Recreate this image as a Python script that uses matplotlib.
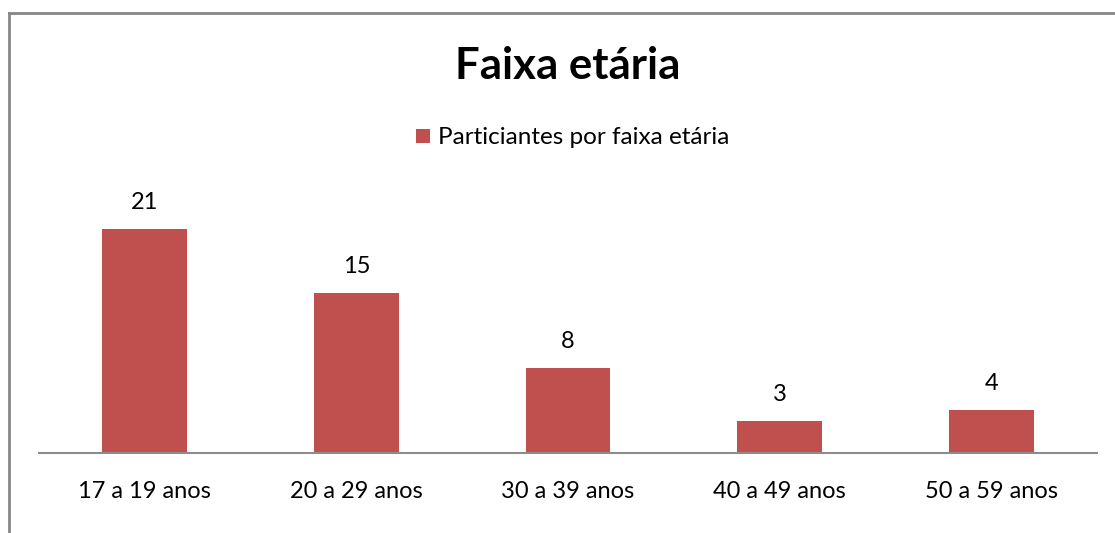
import matplotlib.pyplot as plt
from matplotlib.lines import Line2D
from matplotlib.patches import Patch

categories = ['17 a 19 anos', '20 a 29 anos', '30 a 39 anos', '40 a 49 anos', '50 a 59 anos']
participants = [21, 15, 8, 3, 4]
series_name = 'Particiantes por faixa etária'
title = 'Faixa etária'

W, H = 1115, 533
bar_color = '#C0504D'
font = ['Lato', 'DejaVu Sans']

fig = plt.figure(figsize=(W / 100, H / 100), dpi=100)

# plot area in pixels: x 39..1097, baseline y 453, top y 190
ax = fig.add_axes([39 / W, (H - 453) / H, (1097 - 39) / W, (453 - 190) / H])
x = range(len(categories))
bars = ax.bar(x, participants, width=0.4, color=bar_color)
ax.set_xlim(-0.5, len(categories) - 0.5)
ax.set_ylim(0, 263 / (224 / 21))

for rect, v in zip(bars, participants):
    ax.text(rect.get_x() + rect.get_width() / 2, v + 2.5, str(v),
            ha='center', va='center', fontsize=17, family=font, color='#000000')

for s in ['top', 'right', 'left']:
    ax.spines[s].set_visible(False)
ax.spines['bottom'].set_color('#8C8C8C')
ax.spines['bottom'].set_linewidth(1.5)
ax.set_yticks([])
ax.set_xticks(list(x))
ax.set_xticklabels(categories, fontsize=17, family=font)
ax.tick_params(axis='x', length=0, pad=20)

fig.text(568 / W, 1 - 66 / H, title, ha='center', va='center',
         fontsize=31.5, fontweight='bold', family=font)

handle = Patch(facecolor=bar_color, edgecolor='none')
fig.legend([handle], [series_name], loc='center', bbox_to_anchor=(573 / W, 1 - 138 / H),
           frameon=False, prop={'family': font, 'size': 17.5},
           handlelength=0.55, handleheight=0.55, handletextpad=0.35)

# chart border (top and left edges visible)
fig.add_artist(Line2D([9 / W, 1114 / W], [1 - 13 / H, 1 - 13 / H], color='#868686', lw=2))
fig.add_artist(Line2D([9 / W, 9 / W], [1 - 13 / H, 0], color='#868686', lw=2))

plt.savefig('out.png', dpi=100)
